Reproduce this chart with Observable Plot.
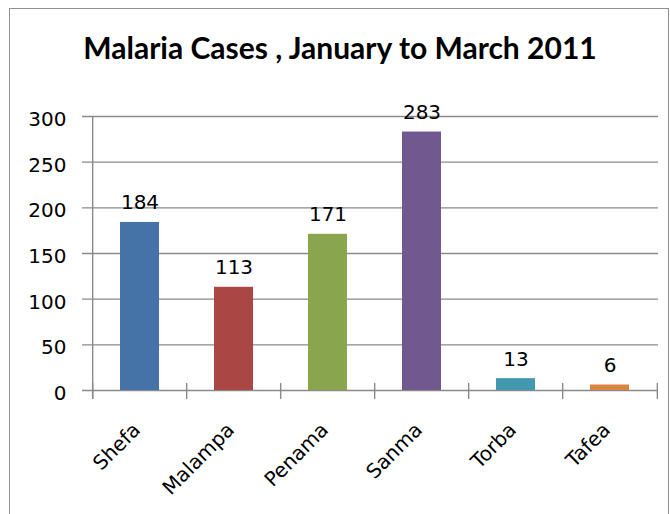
<!DOCTYPE html>
<html>
<head>
<meta charset="utf-8">
<script src="https://cdn.jsdelivr.net/npm/d3@7"></script>
<script src="https://cdn.jsdelivr.net/npm/@observablehq/plot@0.6"></script>
<style>
  html, body { margin: 0; padding: 0; background: #fff; }
  #wrap { position: relative; width: 670px; height: 514px; overflow: hidden; background: #fff; }
  #frame { position: absolute; left: 9px; top: 8px; width: 660px; height: 700px; border: 1.5px solid #8f8f8f; box-sizing: border-box; pointer-events: none; }
  #title { box-sizing: border-box; width: 670px; height: 80px; padding-top: 31px; padding-left: 10px; line-height: 32px;
           text-align: center; font-family: Lato, "Open Sans", sans-serif; font-weight: bold; font-size: 30px; color: #000; }
  svg { display: block; }
</style>
</head>
<body>
<div id="wrap">
  <div id="title">Malaria Cases , January to March 2011</div>
  <div id="chart"></div>
  <div id="frame"></div>
</div>
<script>
const categories = ["Shefa", "Malampa", "Penama", "Sanma", "Torba", "Tafea"];
const cases = [184, 113, 171, 283, 13, 6];
const colors = ["#4572a7", "#aa4643", "#89a54e", "#71588f", "#4198af", "#db843d"];
const yTicks = [0, 50, 100, 150, 200, 250, 300];

const data = categories.map((c, i) => ({region: c, value: cases[i], color: colors[i]}));

const width = 670, height = 434;
const marginLeft = 90, marginRight = 12, marginTop = 36, marginBottom = 124;
const step = (width - marginLeft - marginRight) / categories.length;
const grid = "#8a8a8a";
const font = "DejaVu Sans, Verdana, sans-serif";

const chart = Plot.plot({
  width, height, marginLeft, marginRight, marginTop, marginBottom,
  style: {fontFamily: font, fontSize: "20px", color: "#000", background: "transparent"},
  x: {domain: categories, paddingInner: 0.59, paddingOuter: 0.295, label: null},
  y: {domain: [0, 300], label: null},
  marks: [
    Plot.ruleY(yTicks, {y: d => d, stroke: grid, strokeWidth: 1.4, insetLeft: -8}),
    Plot.barY(data, {x: "region", y: "value", fill: "color"}),
    Plot.ruleX([categories[0]], {x: d => d, y1: 0, y2: 300, insetTop: 9, insetBottom: 0, dx: -step / 2, stroke: grid, strokeWidth: 1.4}),
    Plot.ruleX(categories, {x: d => d, y1: 0, y2: 0, insetTop: 9, insetBottom: 7, dx: -step / 2, stroke: grid, strokeWidth: 1.4}),
    Plot.ruleX([categories[categories.length - 1]], {x: d => d, y1: 0, y2: 0, insetTop: 9, insetBottom: 7, dx: step / 2, stroke: grid, strokeWidth: 1.4}),
    Plot.text(data, {x: "region", y: "value", text: d => String(d.value), lineAnchor: "bottom", dy: -13, fill: "#000", fontSize: 20}),
    Plot.axisY({ticks: yTicks, tickSize: 0, tickPadding: 24, dy: 3, fontSize: 20, fill: "#000"}),
    Plot.axisX({tickSize: 0, tickRotate: -45, tickPadding: 36, dx: -3, fontSize: 20, fill: "#000"})
  ]
});
document.getElementById("chart").appendChild(chart);
</script>
</body>
</html>
